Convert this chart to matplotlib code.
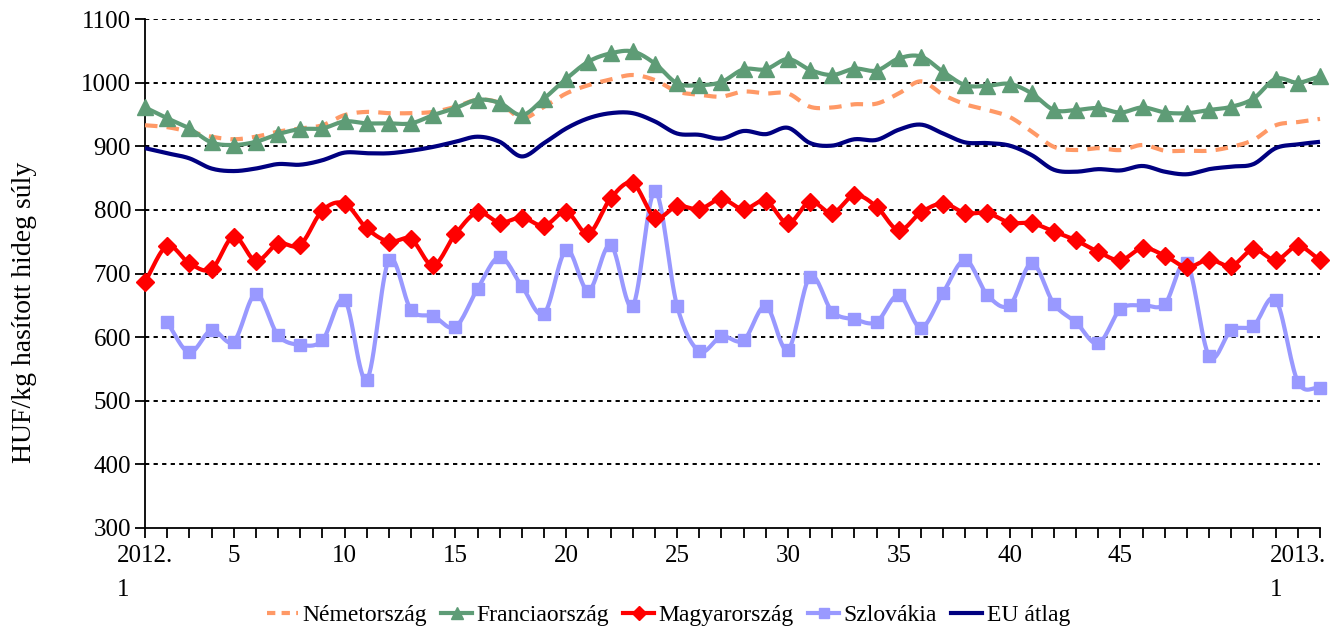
import numpy as np
import matplotlib
matplotlib.use("Agg")
import matplotlib.pyplot as plt
from matplotlib.lines import Line2D

plt.rcParams['font.family'] = ['Liberation Serif', 'DejaVu Serif']

weeks = list(range(1, 53)) + [1, 2]
tick_labels = {0: "2012.\n1", 4: "5", 9: "10", 14: "15", 19: "20", 24: "25", 29: "30",
               34: "35", 39: "40", 44: "45", 52: "2013.\n1"}

nemetorszag = [933, 930, 923, 915, 911, 915, 923, 928, 933, 949, 954, 952, 952, 954, 962, 973,
               968, 944, 962, 983, 996, 1005, 1012, 1004, 986, 981, 978, 986, 983, 983, 962, 961,
               966, 967, 983, 1002, 981, 966, 957, 946, 923, 899, 894, 897, 894, 902, 893, 893,
               893, 899, 910, 933, 938, 943]
franciaorszag = [961, 944, 928, 906, 902, 907, 919, 927, 928, 939, 936, 936, 936, 949, 960, 973,
                 968, 949, 975, 1006, 1033, 1046, 1049, 1030, 999, 996, 1001, 1021, 1021, 1037,
                 1020, 1012, 1022, 1019, 1038, 1041, 1017, 996, 995, 998, 983, 957, 957, 960, 953,
                 961, 953, 952, 957, 962, 975, 1006, 1000, 1010]
magyarorszag = [687, 743, 716, 707, 758, 720, 747, 745, 799, 810, 771, 750, 754, 713, 762, 796,
                780, 788, 775, 797, 763, 818, 842, 788, 806, 801, 817, 801, 814, 779, 813, 795,
                823, 805, 768, 796, 810, 795, 795, 780, 779, 766, 752, 734, 721, 740, 728, 710,
                722, 712, 738, 721, 743, 721]
szlovakia = [np.nan, 623, 576, 611, 593, 668, 603, 588, 595, 659, 533, 721, 643, 633, 616, 676,
             726, 680, 637, 737, 673, 745, 649, 829, 649, 578, 601, 595, 649, 580, 695, 640, 628,
             624, 666, 615, 670, 721, 666, 650, 716, 652, 623, 590, 644, 650, 652, 716, 570, 611,
             618, 659, 530, 520]
eu_atlag = [897, 889, 881, 865, 861, 865, 872, 871, 878, 890, 889, 889, 893, 899, 907, 915, 907,
            884, 905, 928, 944, 952, 952, 939, 920, 918, 912, 924, 919, 929, 905, 901, 911, 910,
            926, 934, 920, 906, 905, 901, 886, 863, 860, 864, 862, 869, 860, 856, 864, 868, 872,
            897, 903, 907]


def smooth(xv, yv, n=16):
    """Catmull-Rom style smoothing through the points (like Excel smoothed lines)."""
    xv = np.asarray(xv, float)
    yv = np.asarray(yv, float)
    ok = ~np.isnan(yv)
    xv, yv = xv[ok], yv[ok]
    px = np.concatenate([[2 * xv[0] - xv[1]], xv, [2 * xv[-1] - xv[-2]]])
    py = np.concatenate([[2 * yv[0] - yv[1]], yv, [2 * yv[-1] - yv[-2]]])
    outx, outy = [], []
    t = np.linspace(0, 1, n, endpoint=False)
    for i in range(1, len(px) - 2):
        p0x, p1x, p2x, p3x = px[i - 1:i + 3]
        p0y, p1y, p2y, p3y = py[i - 1:i + 3]
        c1x, c1y = p1x + (p2x - p0x) / 6, p1y + (p2y - p0y) / 6
        c2x, c2y = p2x - (p3x - p1x) / 6, p2y - (p3y - p1y) / 6
        bx = (1 - t) ** 3 * p1x + 3 * (1 - t) ** 2 * t * c1x + 3 * (1 - t) * t ** 2 * c2x + t ** 3 * p2x
        by = (1 - t) ** 3 * p1y + 3 * (1 - t) ** 2 * t * c1y + 3 * (1 - t) * t ** 2 * c2y + t ** 3 * p2y
        outx.extend(bx)
        outy.extend(by)
    outx.append(xv[-1])
    outy.append(yv[-1])
    return np.array(outx), np.array(outy)


fig = plt.figure(figsize=(13.37, 6.31), dpi=100)
ax = fig.add_axes([145 / 1337, 1 - 528 / 631, (1320 - 145) / 1337, (528 - 19) / 631])

x = np.arange(len(weeks))

c_de, c_fr, c_hu, c_sk, c_eu = "#FF9966", "#5E9C76", "#FF0000", "#9999FF", "#000080"

# grid
for v in range(400, 1101, 100):
    ax.axhline(v, color="black", lw=1.4, linestyle=(0, (2.2, 2.2)), zorder=1)

sx, sy = smooth(x, eu_atlag)
ax.plot(sx, sy, color=c_eu, lw=3.0, zorder=3, clip_on=False, solid_capstyle='butt')

sx, sy = smooth(x, nemetorszag)
ax.plot(sx, sy, color=c_de, lw=3.0, linestyle=(0, (3, 2.2)), zorder=3, clip_on=False)

sx, sy = smooth(x, szlovakia)
ax.plot(sx, sy, color=c_sk, lw=3.0, zorder=4, clip_on=False)
ax.plot(x, szlovakia, linestyle='none', marker='s', ms=9, color=c_sk, zorder=4, clip_on=False)

sx, sy = smooth(x, magyarorszag)
ax.plot(sx, sy, color=c_hu, lw=3.0, zorder=5, clip_on=False)
ax.plot(x, magyarorszag, linestyle='none', marker='D', ms=9, color=c_hu, zorder=5, clip_on=False)

sx, sy = smooth(x, franciaorszag)
ax.plot(sx, sy, color=c_fr, lw=3.0, zorder=6, clip_on=False)
ax.plot(x, franciaorszag, linestyle='none', marker='^', ms=11, color=c_fr, zorder=6, clip_on=False)

ax.set_xlim(0, len(weeks) - 1)
ax.set_ylim(300, 1100)
ax.set_yticks(range(300, 1101, 100))
ax.set_xticks(x)
ax.set_xticklabels([tick_labels.get(i, "") for i in x], multialignment='left', linespacing=1.75)
ax.tick_params(axis='both', direction='out', length=7, width=1.3, labelsize=18, colors='black')
ax.tick_params(axis='x', pad=5)
ax.tick_params(axis='y', pad=3)
for s in ['top', 'right']:
    ax.spines[s].set_visible(False)
for s in ['left', 'bottom']:
    ax.spines[s].set_linewidth(1.3)
ax.spines['bottom'].set_zorder(7)

ax.set_ylabel("HUF/kg hasított hideg súly", fontsize=20)
ax.yaxis.set_label_coords(-0.092, 0.424)

handles = [
    Line2D([], [], color=c_de, lw=3, linestyle=(0, (2, 1.5))),
    Line2D([], [], color=c_fr, lw=3, marker='^', ms=9),
    Line2D([], [], color=c_hu, lw=3, marker='D', ms=7),
    Line2D([], [], color=c_sk, lw=3, marker='s', ms=7),
    Line2D([], [], color=c_eu, lw=3),
]
labels = ["Németország", "Franciaország", "Magyarország", "Szlovákia", "EU átlag"]
fig.legend(handles, labels, loc='center', bbox_to_anchor=(0.5, 1 - 615 / 631), ncol=5,
           frameon=False, fontsize=17, handlelength=1.3, handletextpad=0.2, columnspacing=0.6)

fig.savefig("out.png", dpi=100)
